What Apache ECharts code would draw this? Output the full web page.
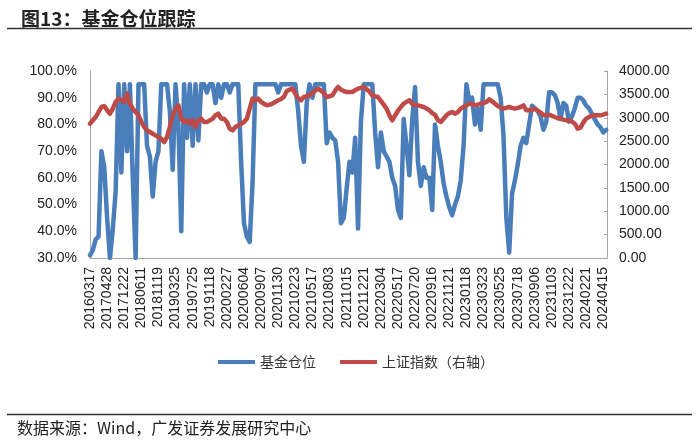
<!DOCTYPE html>
<html>
<head>
<meta charset="utf-8">
<script src="https://cdn.jsdelivr.net/npm/echarts@6/dist/echarts.min.js"></script>
<style>
html,body{margin:0;padding:0;background:#fff;}
#chart{width:700px;height:441px;}
</style>
</head>
<body>
<div id="chart"></div>
<script>
// x-axis tick labels (one every 6 data points)
const xTickLabels = ['20160317','20170428','20171222','20180611','20181119','20190325','20190725','20191118','20200227','20200604','20200907','20201130','20210223','20210517','20210803','20211015','20211221','20220304','20220517','20220720','20220916','20221121','20230118','20230323','20230525','20230718','20230906','20231103','20231222','20240221','20240415'];
const pointsPerLabel = 6;

// 基金仓位 (%)
const fundPos = [
31,33,37,38,70,64,45,30,41,55,
95,62,95,70,95,60,30,95,95,95,
72,68,53,66,70,95,95,95,85,63,
95,80,40,95,75,95,72,95,74,95,
95,92,95,95,88,95,90,95,95,92,
95,95,95,66,43,38,36,58,95,95,
95,95,95,95,95,95,92,95,95,95,
95,95,95,85,72,66,88,95,90,95,
95,95,95,73,77,75,74,66,43,45,
56,66,62,75,41,81,95,95,95,95,
77,64,77,70,68,66,60,57,48,45,
82,72,61,82,94,66,57,64,60,60,
48,80,72,66,58,53,49,46,50,53,
59,72,95,89,90,80,86,78,95,95,
95,95,95,95,90,76,45,32,54,59,
65,72,75,73,80,87,86,85,83,78,
81,92,92,91,88,82,88,87,81,83,
86,90,90,89,87,86,84,82,80,79,
77,78
];

// 上证指数 (右轴)
const shIndex = [
2873,2945,3016,3123,3230,3251,3159,3087,3194,3337,
3409,3373,3337,3515,3302,3194,3123,3052,2909,2802,
2731,2695,2659,2624,2588,2552,2481,2588,2802,3052,
3194,3266,2980,2909,2945,2873,2945,2802,2945,2980,
2909,2909,2945,2980,3052,3087,2980,2980,2909,2766,
2731,2802,2838,2873,2909,2980,3194,3409,3373,3409,
3337,3300,3266,3280,3302,3340,3373,3400,3450,3570,
3600,3623,3515,3420,3373,3444,3460,3480,3530,3580,
3623,3580,3530,3444,3460,3480,3580,3658,3600,3570,
3551,3551,3551,3590,3623,3640,3658,3610,3560,3480,
3460,3444,3360,3280,3194,3050,2945,3050,3150,3230,
3302,3340,3373,3300,3266,3266,3250,3230,3200,3159,
3100,3060,2950,2909,2980,3052,3100,3123,3087,3120,
3194,3230,3266,3302,3290,3266,3280,3302,3320,3337,
3394,3350,3302,3250,3220,3194,3210,3230,3210,3194,
3210,3230,3266,3159,3159,3170,3194,3150,3110,3060,
3052,3066,3040,3016,2990,2980,2960,2945,2945,2920,
2873,2766,2790,2900,2980,3016,3040,3052,3052,3052,
3066,3087
];

const seriesNames = ['基金仓位','上证指数（右轴）'];

const chart = echarts.init(document.getElementById('chart'), null, {renderer:'canvas'});
const numFont = 'Liberation Sans, Arial, sans-serif';
const cjkFont = '"Noto Sans CJK SC", sans-serif';
const axisGray = '#a6a6a6';

chart.setOption({
  animation:false,
  backgroundColor:'#fff',
  title:{
    text:'图13：基金仓位跟踪',
    left:16, top:4,
    textStyle:{fontFamily:cjkFont,fontSize:19,fontWeight:'bold',color:'#222'}
  },
  graphic:[
    {type:'line',shape:{x1:7,y1:28.5,x2:692,y2:28.5},style:{stroke:'#333',lineWidth:1.5}},
    {type:'line',shape:{x1:7,y1:414.5,x2:692,y2:414.5},style:{stroke:'#333',lineWidth:1.5}},
    {type:'text',left:17,top:420,style:{text:'数据来源：Wind，广发证券发展研究中心',font:'16px "Noto Sans CJK SC", sans-serif',fill:'#222'}}
  ],
  legend:{
    data:seriesNames,
    left:213, top:350,
    icon:'rect', itemWidth:37, itemHeight:4, itemGap:24,
    textStyle:{fontFamily:cjkFont,fontSize:14,color:'#333',padding:[0,0,0,0]}
  },
  grid:{left:90,right:93,top:71,bottom:183,containLabel:false},
  xAxis:{
    type:'value', min:0, max:(xTickLabels.length-1)*pointsPerLabel+1.3, interval:pointsPerLabel,
    axisLine:{show:true,lineStyle:{color:axisGray,width:1}},
    axisTick:{show:false},
    splitLine:{show:false},
    axisLabel:{
      rotate:90, margin:9, fontFamily:numFont, fontSize:14, color:'#222',
      showMaxLabel:false,
      formatter:function(v){
        if (v % pointsPerLabel !== 0) return '';
        const k = v / pointsPerLabel;
        return xTickLabels[k] || '';
      }
    }
  },
  yAxis:[
    {
      type:'value', min:30, max:100, interval:10, position:'left',
      axisLine:{show:true,lineStyle:{color:axisGray}},
      axisTick:{show:false},
      splitLine:{show:false},
      axisLabel:{margin:13,fontFamily:numFont,fontSize:14,color:'#222',formatter:v=>v.toFixed(1)+'%'}
    },
    {
      type:'value', min:0, max:4000, interval:500, position:'right',
      axisLine:{show:true,lineStyle:{color:axisGray}},
      axisTick:{show:true,inside:true,length:3,lineStyle:{color:axisGray}},
      splitLine:{show:false},
      axisLabel:{margin:12,fontFamily:numFont,fontSize:14,color:'#222',formatter:v=>v.toFixed(2)}
    }
  ],
  series:[
    {
      name:seriesNames[0], type:'line', yAxisIndex:0, showSymbol:false, symbol:'none',
      data:fundPos.map((v,i)=>[i,v]),
      lineStyle:{color:'#4A7EBB',width:4.5,join:'round',cap:'round'},
      itemStyle:{color:'#4A7EBB'}
    },
    {
      name:seriesNames[1], type:'line', yAxisIndex:1, showSymbol:false, symbol:'none',
      data:shIndex.map((v,i)=>[i,v]),
      lineStyle:{color:'#BE4B48',width:4.5,join:'round',cap:'round'},
      itemStyle:{color:'#BE4B48'}
    }
  ]
});
</script>
</body>
</html>
